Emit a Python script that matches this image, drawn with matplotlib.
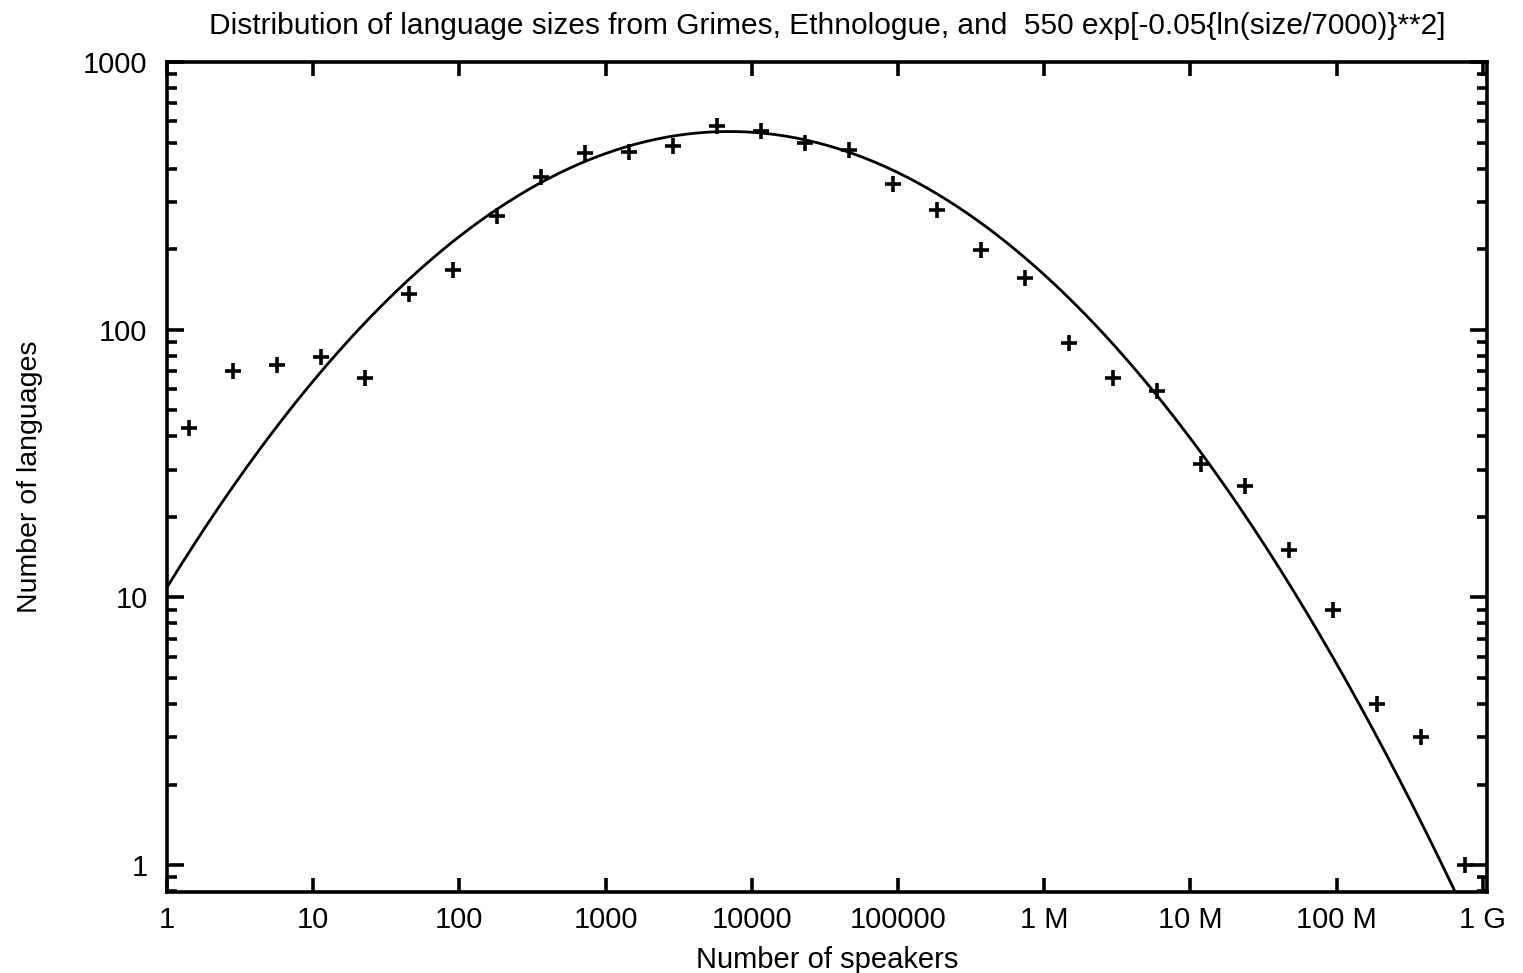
import numpy as np
import matplotlib
matplotlib.use("Agg")
import matplotlib.pyplot as plt
from matplotlib.ticker import FixedLocator, LogLocator, NullFormatter, NullLocator

# Bin index k: language sizes binned in powers of two, plotted at 2**(k+0.5)
bin_index = list(range(30))
num_languages = [43, 70, 74, 79, 66, 136, 167, 266, 372, 457,
                 461, 485, 577, 552, 498, 469, 350, 280, 198, 156,
                 89, 66, 59, 31.5, 26, 15, 9, 4, 3, 1]

# Fitted curve parameters from the title: A exp[-B {ln(size/C)}**2]
fit_A = 550
fit_B = 0.05
fit_C = 7000

x_tick_values = [1, 10, 100, 1000, 1e4, 1e5, 1e6, 1e7, 1e8, 1e9]
x_tick_labels = ["1", "10", "100", "1000", "10000", "100000",
                 "1 M", "10 M", "100 M", "1 G"]
y_tick_values = [1, 10, 100, 1000]
y_tick_labels = ["1", "10", "100", "1000"]

plt.rcParams['font.family'] = ['Liberation Sans', 'DejaVu Sans']

W, H = 1523, 973
fig = plt.figure(figsize=(W / 100, H / 100), dpi=100)
ax = fig.add_axes([167 / W, 1 - 892 / H, (1487 - 167) / W, (892 - 62) / H])

sizes = 2.0 ** (np.array(bin_index) + 0.5)

xs = np.logspace(0, np.log10(1.1e9), 400)
ys = fit_A * np.exp(-fit_B * np.log(xs / fit_C) ** 2)
ax.plot(xs, ys, color='black', lw=2.0, zorder=2)

ax.plot(sizes, num_languages, linestyle='none', marker='+', color='black',
        markersize=12, markeredgewidth=2.6, zorder=3, clip_on=False)

ax.set_xscale('log')
ax.set_yscale('log')
ax.set_xlim(1, 1.07e9)
ax.set_ylim(10 ** -0.1, 1000)

ax.xaxis.set_major_locator(FixedLocator(x_tick_values))
ax.set_xticklabels(x_tick_labels)
ax.xaxis.set_minor_locator(NullLocator())
ax.yaxis.set_major_locator(FixedLocator(y_tick_values))
ax.set_yticklabels(y_tick_labels)
ax.yaxis.set_minor_locator(LogLocator(base=10, subs=np.arange(2, 10)))
ax.yaxis.set_minor_formatter(NullFormatter())

for s in ax.spines.values():
    s.set_linewidth(2.6)
    s.set_color('black')

ax.tick_params(axis='both', which='both', direction='in', top=True, right=True,
               labelsize=21, colors='black', width=2.6)
ax.tick_params(axis='x', which='major', length=10, pad=10)
ax.tick_params(axis='y', which='major', length=12, pad=14)
ax.tick_params(axis='y', which='minor', length=7)

ax.set_title("Distribution of language sizes from Grimes, Ethnologue, and  550 exp[-0.05{ln(size/7000)}**2]",
             fontsize=21.5, pad=20)
ax.set_xlabel("Number of speakers", fontsize=21, labelpad=9)
ax.set_ylabel("Number of languages", fontsize=20.5)
ax.yaxis.set_label_coords(-(167 - 43) / (1487 - 167), 0.5)

fig.savefig("out.png", dpi=100)
